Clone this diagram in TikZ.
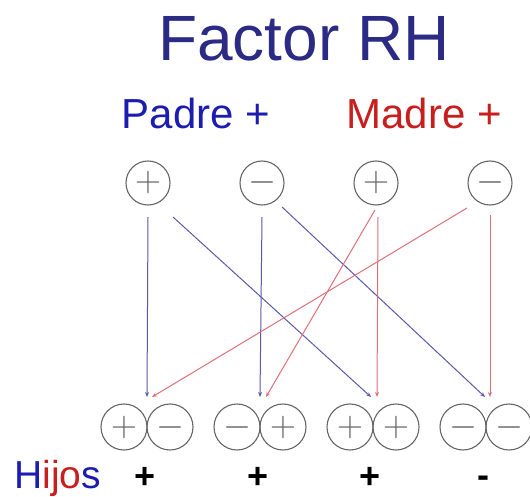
\documentclass[tikz,border=0pt]{standalone}
\usepackage{fix-cm}
\usepackage{fontspec}
\setmainfont{Liberation Sans}
\usetikzlibrary{arrows.meta}
\definecolor{titleblue}{HTML}{2B2B85}
\definecolor{padreblue}{HTML}{1C1CB0}
\definecolor{madrered}{HTML}{C81E1E}
\definecolor{lineblue}{HTML}{5A5AA8}
\definecolor{linered}{HTML}{E07078}
\definecolor{circgray}{HTML}{666666}
\tikzset{
  allele/.style={circle, draw=circgray, line width=1.1pt, minimum size=#1, inner sep=0pt, text=circgray,
    font=\fontsize{36}{36}\selectfont},
  allele/.default=44pt,
  bluecon/.style={draw=lineblue, line width=1pt, -{Stealth[length=5pt,width=4pt]}},
  redcon/.style={draw=linered, line width=1pt, -{Stealth[length=5pt,width=4pt]}},
  res/.style={font=\bfseries\fontsize{36}{36}\selectfont, text=black},
}
\begin{document}
\begin{tikzpicture}[x=1pt,y=-1pt]
\fill[white] (0,0) rectangle (530,497);
\useasboundingbox (0,0) rectangle (530,497);
\begin{scope}
\clip (0,0) rectangle (530,497);
% title and parents
\node[anchor=base, text=titleblue, font=\fontsize{64}{64}\selectfont] (title) at (304,61) {Factor RH};
\node[anchor=base, text=padreblue, font=\fontsize{42}{42}\selectfont] (padre) at (196,129) {Padre +};
\node[anchor=base, text=madrered, font=\fontsize{42}{42}\selectfont] (madre) at (424,129) {Madre +};
% parent alleles
\node[allele] (t1) at (148,183) {$+$};
\node[allele] (t2) at (262,183) {$-$};
\node[allele] (t3) at (376,183) {$+$};
\node[allele] (t4) at (490,183) {$-$};
% children alleles
\node[allele=46pt] (b1a) at (124,427) {$+$};
\node[allele=46pt] (b1b) at (170,427) {$-$};
\node[allele=46pt] (b2a) at (237,427) {$-$};
\node[allele=46pt] (b2b) at (283,427) {$+$};
\node[allele=46pt] (b3a) at (350,427) {$+$};
\node[allele=46pt] (b3b) at (396,427) {$+$};
\node[allele=46pt] (b4a) at (463,427) {$-$};
\node[allele=46pt] (b4b) at (509,427) {$-$};
% connector ends
\coordinate (s1v) at (148,217);
\coordinate (s1d) at (173,217);
\coordinate (s2v) at (262,217);
\coordinate (s2d) at (282,207);
\coordinate (s3d) at (375,210);
\coordinate (s3v) at (378,217);
\coordinate (s4d) at (467,208);
\coordinate (s4v) at (490,215);
\coordinate (e1b) at (147,397);
\coordinate (e1r) at (152,397);
\coordinate (e2b) at (260,397);
\coordinate (e2r) at (266,397);
\coordinate (e3b) at (371,397);
\coordinate (e3r) at (377,397);
\coordinate (e4b) at (485,397);
\coordinate (e4r) at (490,397);
\draw[bluecon] (s1v) -- (e1b);
\draw[bluecon] (s1d) -- (e3b);
\draw[bluecon] (s2v) -- (e2b);
\draw[bluecon] (s2d) -- (e4b);
\draw[redcon] (s3d) -- (e2r);
\draw[redcon] (s3v) -- (e3r);
\draw[redcon] (s4d) -- (e1r);
\draw[redcon] (s4v) -- (e4r);
% children label and results
\node[anchor=base west, font=\fontsize{39}{39}\selectfont, inner sep=0pt] (hijos) at (14,488)
  {\textcolor{padreblue}{H}\textcolor{madrered}{ijo}\textcolor{padreblue}{s}};
\node[res] (r1) at (145,478) {+};
\node[res] (r2) at (258,478) {+};
\node[res] (r3) at (370,478) {+};
\node[res] (r4) at (483,482) {-};
\end{scope}
\end{tikzpicture}
\end{document}
